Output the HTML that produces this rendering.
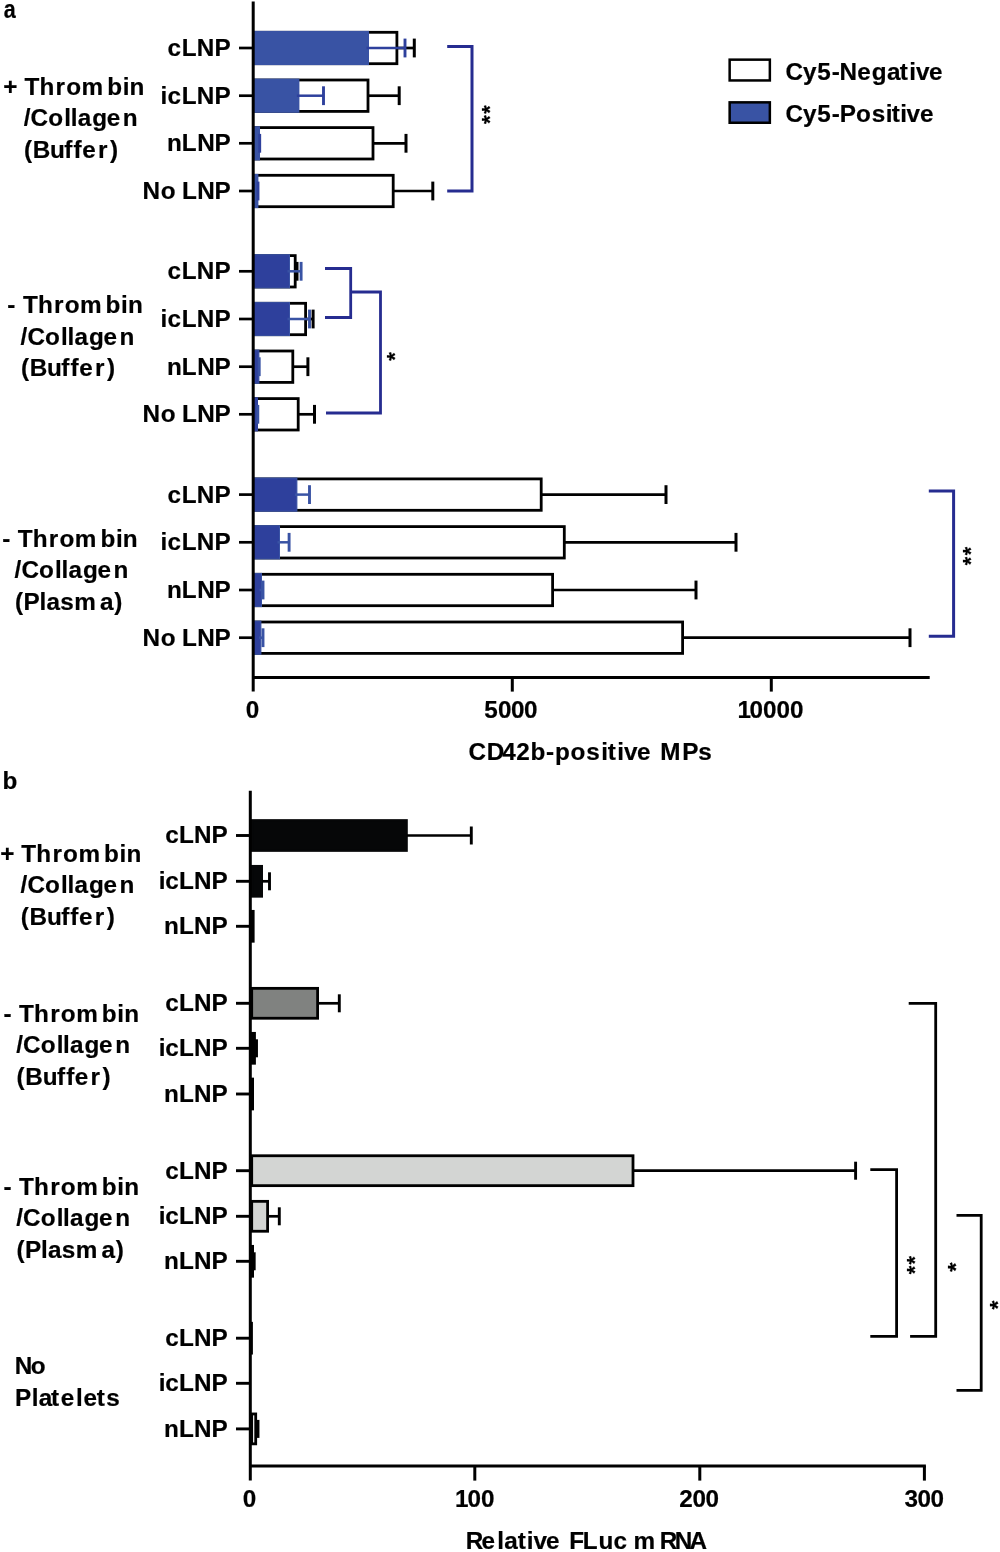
<!DOCTYPE html>
<html><head><meta charset="utf-8"><title>Figure</title>
<style>
html,body{margin:0;padding:0;background:#fff;}
body{width:1000px;height:1552px;overflow:hidden;}
svg{display:block;will-change:transform;}
text{font-family:'Liberation Sans', sans-serif;font-weight:700;font-size:24.3px;fill:#000;stroke:#000;stroke-width:0.2px;}
</style></head>
<body>
<svg width="1000" height="1552" viewBox="0 0 1000 1552">
<rect width="1000" height="1552" fill="#fff"/>
<g fill="none">
<path d="M239.00 48.00L253.20 48.00" stroke="#000" stroke-width="2.7"/>
<rect x="254.60" y="32.30" width="142.30" height="31.40" fill="#fff" stroke="#000" stroke-width="2.8"/>
<path d="M397.30 48.00L414.30 48.00" stroke="#000" stroke-width="2.7"/>
<path d="M414.30 38.60L414.30 57.40" stroke="#000" stroke-width="3.0"/>
<rect x="253.20" y="30.90" width="115.80" height="34.20" fill="#3953a4"/>
<path d="M366.50 48.00L405.00 48.00" stroke="#2e409c" stroke-width="2.5"/>
<path d="M405.00 38.60L405.00 57.40" stroke="#2e409c" stroke-width="2.9"/>
<path d="M239.00 95.70L253.20 95.70" stroke="#000" stroke-width="2.7"/>
<rect x="254.60" y="80.00" width="113.40" height="31.40" fill="#fff" stroke="#000" stroke-width="2.8"/>
<path d="M368.40 95.70L399.20 95.70" stroke="#000" stroke-width="2.7"/>
<path d="M399.20 86.30L399.20 105.10" stroke="#000" stroke-width="3.0"/>
<rect x="253.20" y="78.60" width="46.20" height="34.20" fill="#3953a4"/>
<path d="M296.90 95.70L323.50 95.70" stroke="#2e409c" stroke-width="2.5"/>
<path d="M323.50 86.30L323.50 105.10" stroke="#2e409c" stroke-width="2.9"/>
<path d="M239.00 143.30L253.20 143.30" stroke="#000" stroke-width="2.7"/>
<rect x="254.60" y="127.60" width="118.40" height="31.40" fill="#fff" stroke="#000" stroke-width="2.8"/>
<path d="M373.40 143.30L406.00 143.30" stroke="#000" stroke-width="2.7"/>
<path d="M406.00 133.90L406.00 152.70" stroke="#000" stroke-width="3.0"/>
<rect x="253.20" y="126.20" width="6.80" height="34.20" fill="#3953a4"/>
<path d="M259.70 133.90L259.70 152.70" stroke="#2e409c" stroke-width="2.9"/>
<path d="M239.00 191.00L253.20 191.00" stroke="#000" stroke-width="2.7"/>
<rect x="254.60" y="175.30" width="138.60" height="31.40" fill="#fff" stroke="#000" stroke-width="2.8"/>
<path d="M393.60 191.00L432.80 191.00" stroke="#000" stroke-width="2.7"/>
<path d="M432.80 181.60L432.80 200.40" stroke="#000" stroke-width="3.0"/>
<rect x="253.20" y="173.90" width="5.20" height="34.20" fill="#3953a4"/>
<path d="M258.00 181.60L258.00 200.40" stroke="#2e409c" stroke-width="2.9"/>
<path d="M239.00 271.30L253.20 271.30" stroke="#000" stroke-width="2.7"/>
<rect x="254.60" y="255.60" width="40.60" height="31.40" fill="#fff" stroke="#000" stroke-width="2.8"/>
<path d="M295.60 271.30L297.00 271.30" stroke="#000" stroke-width="2.7"/>
<path d="M297.00 261.90L297.00 280.70" stroke="#000" stroke-width="3.0"/>
<rect x="252.70" y="254.70" width="36.80" height="33.20" fill="#2e409c" stroke="#3953a4" stroke-width="1.0"/>
<path d="M287.50 271.30L301.10 271.30" stroke="#3953a4" stroke-width="2.5"/>
<path d="M301.10 261.90L301.10 280.70" stroke="#3953a4" stroke-width="2.9"/>
<path d="M239.00 319.00L253.20 319.00" stroke="#000" stroke-width="2.7"/>
<rect x="254.60" y="303.30" width="51.00" height="31.40" fill="#fff" stroke="#000" stroke-width="2.8"/>
<path d="M306.00 319.00L313.10 319.00" stroke="#000" stroke-width="2.7"/>
<path d="M313.10 309.60L313.10 328.40" stroke="#000" stroke-width="3.0"/>
<rect x="252.70" y="302.40" width="36.80" height="33.20" fill="#2e409c" stroke="#3953a4" stroke-width="1.0"/>
<path d="M287.50 319.00L309.50 319.00" stroke="#3953a4" stroke-width="2.5"/>
<path d="M309.50 309.60L309.50 328.40" stroke="#3953a4" stroke-width="2.9"/>
<path d="M239.00 366.70L253.20 366.70" stroke="#000" stroke-width="2.7"/>
<rect x="254.60" y="351.00" width="38.20" height="31.40" fill="#fff" stroke="#000" stroke-width="2.8"/>
<path d="M293.20 366.70L307.90 366.70" stroke="#000" stroke-width="2.7"/>
<path d="M307.90 357.30L307.90 376.10" stroke="#000" stroke-width="3.0"/>
<rect x="252.70" y="350.10" width="6.20" height="33.20" fill="#2e409c" stroke="#3953a4" stroke-width="1.0"/>
<path d="M259.20 357.30L259.20 376.10" stroke="#3953a4" stroke-width="2.9"/>
<path d="M239.00 414.30L253.20 414.30" stroke="#000" stroke-width="2.7"/>
<rect x="254.60" y="398.60" width="43.60" height="31.40" fill="#fff" stroke="#000" stroke-width="2.8"/>
<path d="M298.60 414.30L314.50 414.30" stroke="#000" stroke-width="2.7"/>
<path d="M314.50 404.90L314.50 423.70" stroke="#000" stroke-width="3.0"/>
<rect x="253.20" y="397.20" width="4.80" height="34.20" fill="#2e409c"/>
<path d="M257.80 404.90L257.80 423.70" stroke="#3953a4" stroke-width="2.9"/>
<path d="M239.00 494.60L253.20 494.60" stroke="#000" stroke-width="2.7"/>
<rect x="254.60" y="478.90" width="286.60" height="31.40" fill="#fff" stroke="#000" stroke-width="2.8"/>
<path d="M541.60 494.60L666.00 494.60" stroke="#000" stroke-width="2.7"/>
<path d="M666.00 485.20L666.00 504.00" stroke="#000" stroke-width="3.0"/>
<rect x="252.70" y="478.00" width="44.20" height="33.20" fill="#2e409c" stroke="#3953a4" stroke-width="1.0"/>
<path d="M294.90 494.60L309.50 494.60" stroke="#3953a4" stroke-width="2.5"/>
<path d="M309.50 485.20L309.50 504.00" stroke="#3953a4" stroke-width="2.9"/>
<path d="M239.00 542.30L253.20 542.30" stroke="#000" stroke-width="2.7"/>
<rect x="254.60" y="526.60" width="309.70" height="31.40" fill="#fff" stroke="#000" stroke-width="2.8"/>
<path d="M564.70 542.30L736.00 542.30" stroke="#000" stroke-width="2.7"/>
<path d="M736.00 532.90L736.00 551.70" stroke="#000" stroke-width="3.0"/>
<rect x="252.70" y="525.70" width="26.80" height="33.20" fill="#2e409c" stroke="#3953a4" stroke-width="1.0"/>
<path d="M277.50 542.30L289.10 542.30" stroke="#3953a4" stroke-width="2.5"/>
<path d="M289.10 532.90L289.10 551.70" stroke="#3953a4" stroke-width="2.9"/>
<path d="M239.00 590.00L253.20 590.00" stroke="#000" stroke-width="2.7"/>
<rect x="254.60" y="574.30" width="298.00" height="31.40" fill="#fff" stroke="#000" stroke-width="2.8"/>
<path d="M553.00 590.00L696.00 590.00" stroke="#000" stroke-width="2.7"/>
<path d="M696.00 580.60L696.00 599.40" stroke="#000" stroke-width="3.0"/>
<rect x="252.70" y="573.40" width="8.80" height="33.20" fill="#2e409c" stroke="#3953a4" stroke-width="1.0"/>
<path d="M259.50 590.00L263.00 590.00" stroke="#3953a4" stroke-width="2.5"/>
<path d="M263.00 580.60L263.00 599.40" stroke="#3953a4" stroke-width="2.9"/>
<path d="M239.00 637.70L253.20 637.70" stroke="#000" stroke-width="2.7"/>
<rect x="254.60" y="622.00" width="428.00" height="31.40" fill="#fff" stroke="#000" stroke-width="2.8"/>
<path d="M683.00 637.70L910.00 637.70" stroke="#000" stroke-width="2.7"/>
<path d="M910.00 628.30L910.00 647.10" stroke="#000" stroke-width="3.0"/>
<rect x="252.70" y="621.10" width="8.20" height="33.20" fill="#2e409c" stroke="#3953a4" stroke-width="1.0"/>
<path d="M258.90 637.70L263.00 637.70" stroke="#3953a4" stroke-width="2.5"/>
<path d="M263.00 628.30L263.00 647.10" stroke="#3953a4" stroke-width="2.9"/>
<path d="M253.20 1.60L253.20 691.60" stroke="#000" stroke-width="3.0"/>
<path d="M253.20 677.40L929.70 677.40" stroke="#000" stroke-width="3.0"/>
<path d="M512.30 677.40L512.30 691.60" stroke="#000" stroke-width="3.0"/>
<path d="M771.30 677.40L771.30 691.60" stroke="#000" stroke-width="3.0"/>
<rect x="729.65" y="59.65" width="40.20" height="20.80" fill="#fff" stroke="#000" stroke-width="2.5"/>
<rect x="729.65" y="102.35" width="40.20" height="20.40" fill="#3953a4" stroke="#000" stroke-width="2.5"/>
<path d="M447.20 46.50L472.00 46.50L472.00 191.00L447.20 191.00" fill="none" stroke="#262c90" stroke-width="3.0" stroke-linejoin="miter"/>
<path d="M325.00 268.50L350.70 268.50L350.70 317.50L325.00 317.50" fill="none" stroke="#262c90" stroke-width="2.8" stroke-linejoin="miter"/>
<path d="M350.70 292.00L380.50 292.00L380.50 413.00L326.00 413.00" fill="none" stroke="#262c90" stroke-width="2.8" stroke-linejoin="miter"/>
<path d="M928.80 491.00L953.60 491.00L953.60 636.30L928.80 636.30" fill="none" stroke="#262c90" stroke-width="3.0" stroke-linejoin="miter"/>
<path d="M236.00 835.50L250.30 835.50" stroke="#000" stroke-width="2.9"/>
<rect x="251.70" y="820.55" width="154.70" height="29.90" fill="#060708" stroke="#060708" stroke-width="2.8"/>
<path d="M406.80 835.50L471.30 835.50" stroke="#000" stroke-width="2.7"/>
<path d="M471.30 826.50L471.30 844.50" stroke="#000" stroke-width="2.9"/>
<path d="M236.00 881.30L250.30 881.30" stroke="#000" stroke-width="2.9"/>
<rect x="251.70" y="866.35" width="9.90" height="29.90" fill="#060708" stroke="#060708" stroke-width="2.8"/>
<path d="M262.00 881.30L269.50 881.30" stroke="#000" stroke-width="2.7"/>
<path d="M269.50 872.30L269.50 890.30" stroke="#000" stroke-width="2.9"/>
<path d="M236.00 926.30L250.30 926.30" stroke="#000" stroke-width="2.9"/>
<rect x="250.30" y="909.95" width="4.30" height="32.70" fill="#000"/>
<path d="M236.00 1003.30L250.30 1003.30" stroke="#000" stroke-width="2.9"/>
<rect x="251.70" y="988.35" width="65.90" height="29.90" fill="#808280" stroke="#000" stroke-width="2.8"/>
<path d="M318.00 1003.30L339.30 1003.30" stroke="#000" stroke-width="2.7"/>
<path d="M339.30 994.30L339.30 1012.30" stroke="#000" stroke-width="2.9"/>
<path d="M236.00 1048.30L250.30 1048.30" stroke="#000" stroke-width="2.9"/>
<rect x="251.70" y="1033.35" width="2.80" height="29.90" fill="#808280" stroke="#000" stroke-width="2.8"/>
<path d="M254.90 1048.30L256.50 1048.30" stroke="#000" stroke-width="2.7"/>
<path d="M256.50 1039.30L256.50 1057.30" stroke="#000" stroke-width="2.9"/>
<path d="M236.00 1094.00L250.30 1094.00" stroke="#000" stroke-width="2.9"/>
<rect x="250.30" y="1077.65" width="3.70" height="32.70" fill="#000"/>
<path d="M236.00 1170.70L250.30 1170.70" stroke="#000" stroke-width="2.9"/>
<rect x="251.70" y="1155.75" width="381.30" height="29.90" fill="#d3d5d3" stroke="#000" stroke-width="2.8"/>
<path d="M633.40 1170.70L855.60 1170.70" stroke="#000" stroke-width="2.7"/>
<path d="M855.60 1161.70L855.60 1179.70" stroke="#000" stroke-width="2.9"/>
<path d="M236.00 1216.30L250.30 1216.30" stroke="#000" stroke-width="2.9"/>
<rect x="251.70" y="1201.35" width="15.90" height="29.90" fill="#d3d5d3" stroke="#000" stroke-width="2.8"/>
<path d="M268.00 1216.30L279.30 1216.30" stroke="#000" stroke-width="2.7"/>
<path d="M279.30 1207.30L279.30 1225.30" stroke="#000" stroke-width="2.9"/>
<path d="M236.00 1261.30L250.30 1261.30" stroke="#000" stroke-width="2.9"/>
<rect x="250.30" y="1244.95" width="3.70" height="32.70" fill="#000"/>
<path d="M253.00 1261.30L254.20 1261.30" stroke="#000" stroke-width="2.7"/>
<path d="M254.20 1252.30L254.20 1270.30" stroke="#000" stroke-width="2.9"/>
<path d="M236.00 1338.20L250.30 1338.20" stroke="#000" stroke-width="2.9"/>
<rect x="250.30" y="1321.85" width="2.60" height="32.70" fill="#000"/>
<path d="M236.00 1383.30L250.30 1383.30" stroke="#000" stroke-width="2.9"/>
<path d="M236.00 1428.90L250.30 1428.90" stroke="#000" stroke-width="2.9"/>
<rect x="251.70" y="1413.95" width="4.00" height="29.90" fill="#fff" stroke="#000" stroke-width="2.8"/>
<path d="M256.10 1428.90L258.00 1428.90" stroke="#000" stroke-width="2.7"/>
<path d="M258.00 1419.90L258.00 1437.90" stroke="#000" stroke-width="2.9"/>
<path d="M250.30 790.70L250.30 1480.60" stroke="#000" stroke-width="3.0"/>
<path d="M250.30 1466.00L925.90 1466.00" stroke="#000" stroke-width="3.0"/>
<path d="M474.80 1466.00L474.80 1480.60" stroke="#000" stroke-width="3.0"/>
<path d="M699.80 1466.00L699.80 1480.60" stroke="#000" stroke-width="3.0"/>
<path d="M924.40 1466.00L924.40 1480.60" stroke="#000" stroke-width="3.0"/>
<path d="M870.30 1169.60L896.60 1169.60L896.60 1336.30L870.30 1336.30" fill="none" stroke="#000" stroke-width="2.8" stroke-linejoin="miter"/>
<path d="M908.70 1003.40L935.70 1003.40L935.70 1336.30L910.10 1336.30" fill="none" stroke="#000" stroke-width="2.8" stroke-linejoin="miter"/>
<path d="M956.50 1215.40L981.20 1215.40L981.20 1390.30L956.50 1390.30" fill="none" stroke="#000" stroke-width="2.8" stroke-linejoin="miter"/>
</g>
<g>
<text transform="translate(0 17.90) scale(1 1.2)" x="3.67" y="0" style="font-size:21.5px">a</text>
<text transform="translate(0 95.20) scale(1 1.02)" x="3.38 8.38 24.53 39.50 55.60 66.25 81.60 107.20 122.70 129.60" y="0">+ Thrombin</text>
<text transform="translate(0 126.40) scale(1 1.02)" x="23.76 30.60 48.25 64.30 70.70 77.69 92.20 106.65 122.80" y="0">/Collagen</text>
<text transform="translate(0 158.00) scale(1 1.02)" x="23.99 32.77 50.09 64.38 73.58 82.25 98.00 109.98" y="0">(Buffer)</text>
<text transform="translate(0 312.80) scale(1 1.02)" x="7.35 12.35 22.93 37.90 54.00 64.65 80.00 105.60 121.10 128.00" y="0">- Thrombin</text>
<text transform="translate(0 344.60) scale(1 1.02)" x="20.56 27.40 45.05 61.10 67.50 74.49 89.00 103.45 119.60" y="0">/Collagen</text>
<text transform="translate(0 376.00) scale(1 1.02)" x="20.99 29.77 47.09 61.38 70.58 79.25 95.00 106.98" y="0">(Buffer)</text>
<text transform="translate(0 546.90) scale(1 1.02)" x="2.15 7.15 17.73 32.70 48.80 59.45 74.80 100.40 115.90 122.80" y="0">- Thrombin</text>
<text transform="translate(0 578.40) scale(1 1.02)" x="14.56 21.40 39.05 55.10 61.50 68.49 83.00 97.45 113.60" y="0">/Collagen</text>
<text transform="translate(0 609.90) scale(1 1.02)" x="15.09 23.47 39.40 46.39 60.25 74.30 99.99 114.28" y="0">(Plasma)</text>
<text transform="translate(0 56.00) scale(1 1.02)" x="167.45 181.77 196.87 214.57" y="0">cLNP</text>
<text transform="translate(0 103.70) scale(1 1.02)" x="160.50 167.45 181.77 196.87 214.57" y="0">icLNP</text>
<text transform="translate(0 151.30) scale(1 1.02)" x="166.90 181.87 197.17 214.57" y="0">nLNP</text>
<text transform="translate(0 199.00) scale(1 1.02)" x="142.57 160.75 165.75 181.97 197.37 214.57" y="0">No LNP</text>
<text transform="translate(0 279.30) scale(1 1.02)" x="167.45 181.77 196.87 214.57" y="0">cLNP</text>
<text transform="translate(0 327.00) scale(1 1.02)" x="160.50 167.45 181.77 196.87 214.57" y="0">icLNP</text>
<text transform="translate(0 374.70) scale(1 1.02)" x="166.90 181.87 197.17 214.57" y="0">nLNP</text>
<text transform="translate(0 422.30) scale(1 1.02)" x="142.57 160.75 165.75 181.97 197.37 214.57" y="0">No LNP</text>
<text transform="translate(0 502.60) scale(1 1.02)" x="167.45 181.77 196.87 214.57" y="0">cLNP</text>
<text transform="translate(0 550.30) scale(1 1.02)" x="160.50 167.45 181.77 196.87 214.57" y="0">icLNP</text>
<text transform="translate(0 598.00) scale(1 1.02)" x="166.90 181.87 197.17 214.57" y="0">nLNP</text>
<text transform="translate(0 645.70) scale(1 1.02)" x="142.57 160.75 165.75 181.97 197.37 214.57" y="0">No LNP</text>
<text transform="translate(0 80.00) scale(1 1.02)" x="785.40 803.01 817.25 831.85 839.57 857.25 871.80 886.89 899.70 909.30 915.91 929.05" y="0">Cy5-Negative</text>
<text transform="translate(0 121.90) scale(1 1.02)" x="785.40 803.01 817.25 831.85 839.77 856.05 871.65 885.80 891.70 900.30 906.41 920.05" y="0">Cy5-Positive</text>
<text transform="translate(0 718.00) scale(1 1.02)" x="245.84" y="0">0</text>
<text transform="translate(0 718.00) scale(1 1.02)" x="484.25 498.04 511.04 524.04" y="0">5000</text>
<text transform="translate(0 718.00) scale(1 1.02)" x="737.47 749.54 763.04 776.54 790.04" y="0">10000</text>
<text transform="translate(0 760.10) scale(1 1.02)" x="468.50 486.87 502.13 516.16 530.40 546.05 554.90 570.55 586.15 601.30 607.70 617.30 623.91 637.05 642.05 660.37 682.37 698.15" y="0">CD42b-positive MPs</text>
<text transform="translate(0 789.20) scale(1 1.02)" x="2.60" y="0">b</text>
<text transform="translate(0 861.70) scale(1 1.02)" x="0.18 5.18 21.33 36.30 52.40 63.05 78.40 104.00 119.50 126.40" y="0">+ Thrombin</text>
<text transform="translate(0 893.20) scale(1 1.02)" x="20.56 27.40 45.05 61.10 67.50 74.49 89.00 103.45 119.60" y="0">/Collagen</text>
<text transform="translate(0 924.80) scale(1 1.02)" x="20.79 29.57 46.89 61.18 70.38 79.05 94.80 106.78" y="0">(Buffer)</text>
<text transform="translate(0 1021.70) scale(1 1.02)" x="3.55 8.55 19.13 34.10 50.20 60.85 76.20 101.80 117.30 124.20" y="0">- Thrombin</text>
<text transform="translate(0 1053.30) scale(1 1.02)" x="16.16 23.00 40.65 56.70 63.10 70.09 84.60 99.05 115.20" y="0">/Collagen</text>
<text transform="translate(0 1084.80) scale(1 1.02)" x="16.59 25.37 42.69 56.98 66.18 74.85 90.60 102.58" y="0">(Buffer)</text>
<text transform="translate(0 1194.70) scale(1 1.02)" x="3.55 8.55 19.13 34.10 50.20 60.85 76.20 101.80 117.30 124.20" y="0">- Thrombin</text>
<text transform="translate(0 1226.10) scale(1 1.02)" x="16.16 23.00 40.65 56.70 63.10 70.09 84.60 99.05 115.20" y="0">/Collagen</text>
<text transform="translate(0 1257.70) scale(1 1.02)" x="16.59 24.97 40.90 47.89 61.75 75.80 101.49 115.78" y="0">(Plasma)</text>
<text transform="translate(0 1374.40) scale(1 1.02)" x="14.67 30.65" y="0">No</text>
<text transform="translate(0 1405.60) scale(1 1.02)" x="14.97 31.70 38.69 51.10 60.65 75.90 83.45 96.70 106.35" y="0">Platelets</text>
<text transform="translate(0 843.40) scale(1 1.02)" x="165.25 179.07 194.07 211.47" y="0">cLNP</text>
<text transform="translate(0 889.20) scale(1 1.02)" x="158.70 165.25 179.07 194.07 211.47" y="0">icLNP</text>
<text transform="translate(0 934.20) scale(1 1.02)" x="164.10 179.07 194.07 211.47" y="0">nLNP</text>
<text transform="translate(0 1011.20) scale(1 1.02)" x="165.25 179.07 194.07 211.47" y="0">cLNP</text>
<text transform="translate(0 1056.20) scale(1 1.02)" x="158.70 165.25 179.07 194.07 211.47" y="0">icLNP</text>
<text transform="translate(0 1101.90) scale(1 1.02)" x="164.10 179.07 194.07 211.47" y="0">nLNP</text>
<text transform="translate(0 1178.60) scale(1 1.02)" x="165.25 179.07 194.07 211.47" y="0">cLNP</text>
<text transform="translate(0 1224.20) scale(1 1.02)" x="158.70 165.25 179.07 194.07 211.47" y="0">icLNP</text>
<text transform="translate(0 1269.20) scale(1 1.02)" x="164.10 179.07 194.07 211.47" y="0">nLNP</text>
<text transform="translate(0 1346.10) scale(1 1.02)" x="165.25 179.07 194.07 211.47" y="0">cLNP</text>
<text transform="translate(0 1391.20) scale(1 1.02)" x="158.70 165.25 179.07 194.07 211.47" y="0">icLNP</text>
<text transform="translate(0 1436.80) scale(1 1.02)" x="164.10 179.07 194.07 211.47" y="0">nLNP</text>
<text transform="translate(0 1507.30) scale(1 1.02)" x="242.84" y="0">0</text>
<text transform="translate(0 1507.30) scale(1 1.02)" x="454.97 467.54 481.04" y="0">100</text>
<text transform="translate(0 1507.30) scale(1 1.02)" x="679.16 692.54 705.54" y="0">200</text>
<text transform="translate(0 1507.30) scale(1 1.02)" x="904.44 917.54 930.54" y="0">300</text>
<text transform="translate(0 1549.40) scale(1 1.02)" x="465.87 481.55 497.30 504.29 517.70 526.80 533.41 546.05 551.05 569.37 582.87 598.49 613.55 618.55 633.40 659.87 674.87 689.39" y="0">Relative FLuc mRNA</text>
<text transform="translate(496.79 113.86) rotate(-90) scale(1.002 1.000)" style="font-size:21.5px">*</text>
<text transform="translate(496.79 123.97) rotate(-90) scale(1.038 1.000)" style="font-size:21.5px">*</text>
<text transform="translate(401.79 360.66) rotate(-90) scale(1.026 1.000)" style="font-size:21.5px">*</text>
<text transform="translate(978.41 555.16) rotate(-90) scale(1.002 0.988)" style="font-size:21.5px">*</text>
<text transform="translate(978.41 565.16) rotate(-90) scale(1.002 0.988)" style="font-size:21.5px">*</text>
<text transform="translate(921.89 1264.46) rotate(-90) scale(1.014 1.000)" style="font-size:21.5px">*</text>
<text transform="translate(921.89 1274.36) rotate(-90) scale(1.014 1.000)" style="font-size:21.5px">*</text>
<text transform="translate(963.08 1271.77) rotate(-90) scale(1.099 1.013)" style="font-size:21.5px">*</text>
<text transform="translate(1004.71 1309.57) rotate(-90) scale(1.062 0.988)" style="font-size:21.5px">*</text>
</g>
</svg>
</body></html>
